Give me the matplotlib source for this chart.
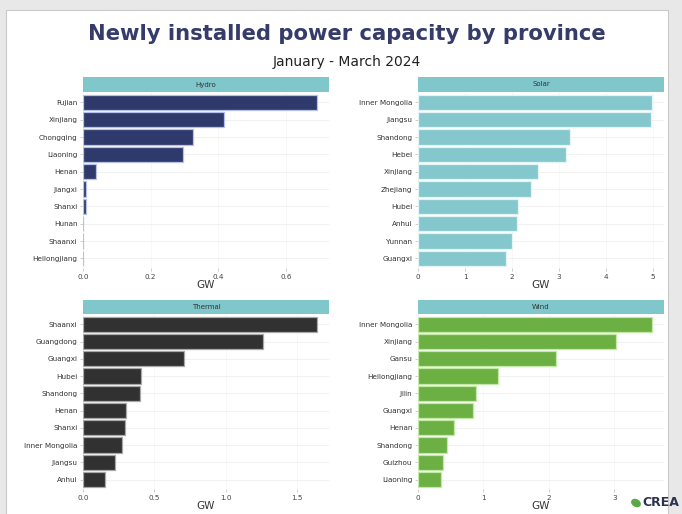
import matplotlib
matplotlib.use("Agg")
import matplotlib.pyplot as plt
from matplotlib.patches import Rectangle, Ellipse

# ---- data ----
hydro_provinces = ["Fujian", "Xinjiang", "Chongqing", "Liaoning", "Henan", "Jiangxi",
                   "Shanxi", "Hunan", "Shaanxi", "Heilongjiang"]
hydro_values = [0.693, 0.416, 0.325, 0.296, 0.038, 0.009, 0.009, 0.001, 0.0005, 0.0003]

solar_provinces = ["Inner Mongolia", "Jiangsu", "Shandong", "Hebei", "Xinjiang", "Zhejiang",
                   "Hubei", "Anhui", "Yunnan", "Guangxi"]
solar_values = [4.98, 4.95, 3.23, 3.15, 2.55, 2.41, 2.13, 2.10, 1.99, 1.87]

thermal_provinces = ["Shaanxi", "Guangdong", "Guangxi", "Hubei", "Shandong", "Henan",
                     "Shanxi", "Inner Mongolia", "Jiangsu", "Anhui"]
thermal_values = [1.644, 1.264, 0.708, 0.409, 0.402, 0.301, 0.292, 0.271, 0.222, 0.156]

wind_provinces = ["Inner Mongolia", "Xinjiang", "Gansu", "Heilongjiang", "Jilin", "Guangxi",
                  "Henan", "Shandong", "Guizhou", "Liaoning"]
wind_values = [3.58, 3.03, 2.11, 1.22, 0.887, 0.836, 0.555, 0.443, 0.382, 0.357]

hydro_ticks = [0.0, 0.2, 0.4, 0.6]
hydro_ticklabels = ["0.0", "0.2", "0.4", "0.6"]
solar_ticks = [0, 1, 2, 3, 4, 5]
solar_ticklabels = ["0", "1", "2", "3", "4", "5"]
thermal_ticks = [0.0, 0.5, 1.0, 1.5]
thermal_ticklabels = ["0.0", "0.5", "1.0", "1.5"]
wind_ticks = [0, 1, 2, 3]
wind_ticklabels = ["0", "1", "2", "3"]

title = "Newly installed power capacity by province"
subtitle = "January - March 2024"
xlabel = "GW"

# ---- figure ----
W, H = 682, 514
fig = plt.figure(figsize=(W / 100, H / 100), dpi=100, facecolor="#e8e8e8")

def rect(x0, y0, x1, y1):
    # pixel box (top-left origin) -> figure fraction
    return [x0 / W, 1 - y1 / H, (x1 - x0) / W, (y1 - y0) / H]

card = Rectangle((6 / W, -0.01), 662 / W, 1 - 10 / H + 0.01, transform=fig.transFigure,
                 facecolor="white", edgecolor="#c9c9c9", linewidth=0.8, zorder=-10)
fig.patches.append(card)

fig.text(347 / W, 1 - 34 / H, title, ha="center", va="center", fontsize=15.2,
         fontweight="bold", color="#363c6a", family="DejaVu Sans")
fig.text(347 / W, 1 - 62 / H, subtitle, ha="center", va="center", fontsize=10,
         color="#222222", family="DejaVu Sans")

strip_color = "#80c7cc"

panels = [
    ("Hydro", hydro_provinces, hydro_values, hydro_ticks, hydro_ticklabels,
     "#2e3a6c", "#b7c0e6", (83, 77, 329, 92, 268)),
    ("Solar", solar_provinces, solar_values, solar_ticks, solar_ticklabels,
     "#84c8ce", "#e4f4f5", (418, 77, 664, 92, 268)),
    ("Thermal", thermal_provinces, thermal_values, thermal_ticks, thermal_ticklabels,
     "#313131", "#a8a8a8", (83, 300, 329, 314, 489)),
    ("Wind", wind_provinces, wind_values, wind_ticks, wind_ticklabels,
     "#6caf43", "#c2eaa6", (418, 300, 664, 314, 489)),
]

for name, cats, vals, ticks, tlabels, color, edge, (x0, sy0, x1, ay0, ay1) in panels:
    sax = fig.add_axes(rect(x0, sy0, x1, ay0))
    sax.set_facecolor(strip_color)
    sax.set_xticks([]); sax.set_yticks([])
    for s in sax.spines.values():
        s.set_visible(False)
    sax.text(0.5, 0.5, name, ha="center", va="center", fontsize=5, color="#333333",
             transform=sax.transAxes)

    ax = fig.add_axes(rect(x0, ay0, x1, ay1))
    pos = list(range(len(cats)))
    ax.barh(pos, vals, height=0.88, color=color, edgecolor=edge, linewidth=0.9, zorder=3)
    ax.set_yticks(pos)
    ax.set_yticklabels(cats)
    ax.set_ylim(len(cats) - 0.45, -0.6)
    ax.set_xlim(0, max(vals) * 1.05)
    ax.set_xticks(ticks)
    ax.set_xticklabels(tlabels)
    ax.tick_params(axis="both", labelsize=5.2, length=2, width=0.5, pad=2)
    ax.tick_params(axis="x", colors="#bbbbbb", labelcolor="#444444")
    ax.tick_params(axis="y", colors="#bbbbbb", labelcolor="#333333")
    for s in ax.spines.values():
        s.set_visible(False)
    ax.grid(True, axis="y", color="#efefef", linewidth=0.6, zorder=0)
    ax.grid(True, axis="x", color="#f5f5f5", linewidth=0.5, zorder=0)
    ax.set_axisbelow(True)
    ax.set_xlabel(xlabel, fontsize=7.5, color="#333333", labelpad=0)

# CREA logo
fig.patches.append(Ellipse((636 / W, 1 - 503 / H), 9 / W, 9 / H, angle=30,
                           transform=fig.transFigure, facecolor="#5aa84a",
                           edgecolor="none", zorder=5))
fig.text(642 / W, 1 - 503 / H, "CREA", ha="left", va="center", fontsize=9,
         fontweight="bold", color="#2c3352", family="DejaVu Sans")

fig.savefig("out.png", dpi=100, facecolor=fig.get_facecolor())
